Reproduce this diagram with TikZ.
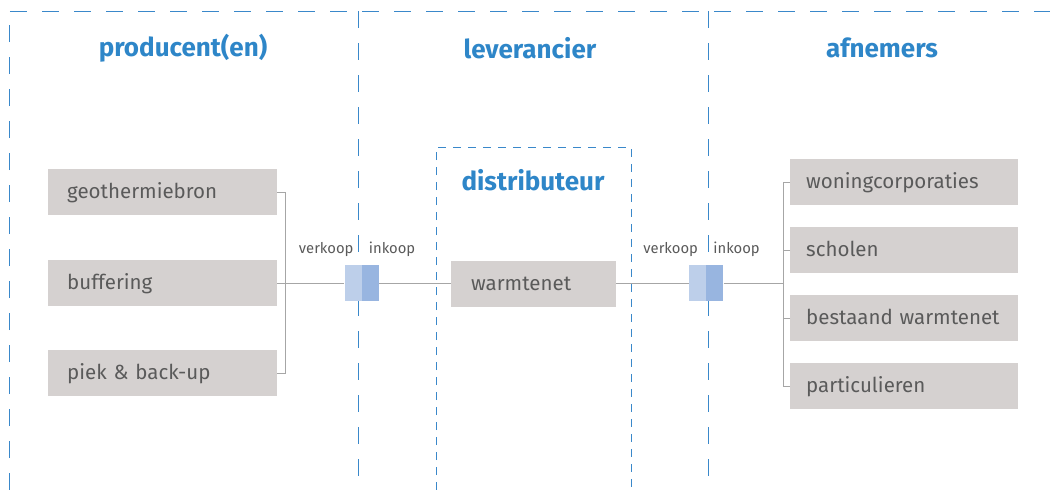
\documentclass[tikz,border=0pt]{standalone}
\usepackage{fontspec}
\setmainfont{Fira Sans}
\usetikzlibrary{positioning, calc}

\definecolor{titleblue}{HTML}{2E86C8}
\definecolor{frameblue}{HTML}{3A88CA}
\definecolor{boxgray}{HTML}{D5D1D0}
\definecolor{textgray}{HTML}{5A5A5A}
\definecolor{linkgray}{HTML}{A6A6A6}
\definecolor{selllight}{HTML}{BDCFEA}
\definecolor{buydark}{HTML}{98B5E0}

\begin{document}
\begin{tikzpicture}[x=1pt, y=-1pt,
  frame/.style={draw=frameblue, line width=1pt, dash pattern=on 17pt off 15pt},
  subframe/.style={draw=frameblue, line width=0.9pt, dash pattern=on 8pt off 7pt},
  head/.style={font=\fontsize{26}{28}\selectfont\bfseries, text=titleblue},
  box/.style={fill=boxgray, text=textgray, font=\fontsize{20.5}{22}\selectfont,
    minimum height=46pt, inner ysep=0pt, text height=16pt, text depth=4pt,
    align=left, anchor=west},
  lbox/.style={box, text width=191pt, inner xsep=19pt},
  rbox/.style={box, text width=196pt, inner xsep=16pt},
  sell/.style={fill=selllight, minimum width=17pt, minimum height=36pt, inner sep=0pt},
  buy/.style={fill=buydark, minimum width=17pt, minimum height=36pt, inner sep=0pt},
  tag/.style={font=\fontsize{14.8}{16}\selectfont, text=textgray, inner sep=0pt},
  link/.style={draw=linkgray, line width=1pt}]

\useasboundingbox (0,0) rectangle (1050,490);

% --- frame and columns ---
\draw[frame] (9,490) -- (9,11) -- (1050,11);
\draw[frame] (358,11) -- (358,490);
\draw[frame] (708,11) -- (708,490);
\draw[subframe] (436,490) |- (631,147) -- (631,490);

\node[head] (prod) at (183,48) {producent(en)};
\node[head] (lev) at (530,48) {leverancier};
\node[head] (afn) at (882,48) {afnemers};
\node[head] (dist) at (533,180) {distributeur};

% --- producers ---
\node[lbox] (geo) at (48,192) {geothermiebron};
\node[lbox] (buf) at (48,283) {buffering};
\node[lbox] (piek) at (48,373) {piek \& back-up};

% --- transfer points ---
\node[sell] (sell1) at (353,283) {};
\node[buy, right=0pt of sell1] (buy1) {};
\node[sell] (sell2) at (697.5,283) {};
\node[buy, right=0pt of sell2] (buy2) {};
\node[tag, above left=8pt and 8pt of sell1.north east] (vk1) {verkoop};
\node[tag, above right=8pt and 7pt of buy1.north west] (ik1) {inkoop};
\node[tag, above left=8pt and 8pt of sell2.north east] (vk2) {verkoop};
\node[tag, above right=8pt and 7pt of buy2.north west] (ik2) {inkoop};

% --- distributor ---
\node[box, text width=125pt, inner xsep=20pt] (net) at (451,284) {warmtenet};

% --- customers ---
\node[rbox] (woning) at (790,182) {woningcorporaties};
\node[rbox] (school) at (790,250) {scholen};
\node[rbox] (bestaand) at (790,318) {bestaand warmtenet};
\node[rbox] (part) at (790,386) {particulieren};

% --- connections ---
\draw[link] (geo.east) -- ++(8,0) |- (piek.east);
\draw[link] (buf.east) -- (sell1.west);
\draw[link] (buy1.east) -- (buy1.east -| net.west);
\draw[link] (sell2.west -| net.east) -- (sell2.west);
\coordinate (hub) at (783,283);
\draw[link] (buy2.east) -- (hub);
\draw[link] (woning.west) -- ++(-7,0) |- (part.west);
\draw[link] (school.west) -- ++(-7,0);
\draw[link] (bestaand.west) -- ++(-7,0);

\end{tikzpicture}
\end{document}
